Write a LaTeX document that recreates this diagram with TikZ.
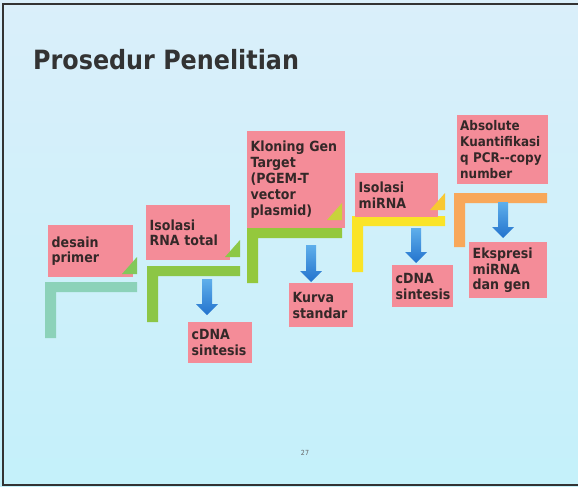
\documentclass[tikz,border=0pt]{standalone}
\usepackage{fontspec}
\setmainfont{DejaVu Sans Condensed}
\usetikzlibrary{calc}

\definecolor{bgblue}{RGB}{218,239,250}
\definecolor{boxpink}{RGB}{244,140,152}
\definecolor{ink}{RGB}{52,40,40}
\definecolor{stepteal}{RGB}{140,210,185}
\definecolor{stepgreen}{RGB}{140,198,70}
\definecolor{steplime}{RGB}{148,200,60}
\definecolor{stepyellow}{RGB}{250,228,40}
\definecolor{steporange}{RGB}{248,168,90}
\definecolor{triA}{RGB}{130,200,90}
\definecolor{triB}{RGB}{140,200,70}
\definecolor{triC}{RGB}{200,210,60}
\definecolor{triD}{RGB}{248,200,50}
\definecolor{arrowtop}{RGB}{95,175,235}
\definecolor{arrowbot}{RGB}{35,115,205}

\tikzset{
  stepbox/.style={anchor=north west, fill=boxpink, inner xsep=3.5pt, inner ysep=3pt,
    align=left, text=ink, font=\bfseries\fontsize{14}{15.8}\selectfont},
}

% L-shaped stair step: colour, left x, top y, right x, bottom y
\newcommand\stairstep[5]{%
  \fill[#1] (#2,#3) -- (#4,#3) -- (#4,#3+10) -- (#2+11,#3+10) -- (#2+11,#5) -- (#2,#5) -- cycle;}
% small corner triangle: colour, right x, bottom y
\newcommand\stairtri[3]{%
  \fill[#1] (#2,#3-17) -- (#2,#3) -- (#2-15,#3) -- cycle;}
% shaded downward block arrow between two named coordinates
\newcommand\bluedrop[2]{%
  \shade[top color=arrowtop, bottom color=arrowbot]
    ($(#1)+(-5,0)$) -- ($(#1)+(5,0)$) -- ($(#2)+(5,-11)$) -- ($(#2)+(11,-11)$)
    -- (#2) -- ($(#2)+(-11,-11)$) -- ($(#2)+(-5,-11)$) -- cycle;}

\begin{document}
\begin{tikzpicture}[x=1pt,y=-1pt]
\useasboundingbox (0,0) rectangle (578,487);

% slide background and frame
\shade[top color=bgblue, middle color=white, bottom color=bgblue!90!cyan] (0,0) rectangle (578,487);
\draw[line width=1.5pt, black!80] (578,4) -- (3,4) -- (3,485) -- (578,485);

\node[anchor=base west, inner sep=0pt, text=black!80, font=\bfseries\fontsize{26.5}{30}\selectfont] (title) at (33,70) {Prosedur Penelitian};

% stair steps
\stairstep{stepteal}{45}{282}{137}{338}
\stairstep{stepgreen}{147}{266}{240}{322}
\stairstep{steplime}{247}{228}{342}{283}
\stairstep{stepyellow}{352}{216}{445}{272}
\stairstep{steporange}{454}{193}{547}{247}

% main steps
\node[stepbox, minimum width=85pt, minimum height=52pt, text width=78pt] (b1) at (48,225) {desain\\primer};
\node[stepbox, minimum width=84pt, minimum height=55pt, text width=77pt] (b2) at (146,205) {Isolasi\\RNA total};
\node[stepbox, minimum width=98pt, minimum height=97pt, text width=91pt] (b3) at (247,131) {Kloning Gen\\Target\\(PGEM-T\\vector\\plasmid)};
\node[stepbox, minimum width=83pt, minimum height=44pt, text width=76pt] (b4) at (355,173) {Isolasi\\miRNA};
\node[stepbox, minimum width=91pt, minimum height=69pt, text width=85pt, inner xsep=3pt,
      font=\bfseries\fontsize{13.3}{15.8}\selectfont] (b5) at (457,115)
      {Absolute\\Kuantifikasi\\\mbox{q PCR-{}-copy}\\number};

% corner triangles
\stairtri{triA}{137}{274}
\stairtri{triB}{240}{257}
\stairtri{triC}{342}{220}
\stairtri{triD}{445}{210}

% results
\node[stepbox, minimum width=64pt, minimum height=41pt, text width=57pt] (c1) at (188,322) {cDNA\\sintesis};
\node[stepbox, minimum width=64pt, minimum height=44pt, text width=57pt] (c2) at (289,283) {Kurva\\standar};
\node[stepbox, minimum width=61pt, minimum height=42pt, text width=54pt] (c3) at (392,265) {cDNA\\sintesis};
\node[stepbox, minimum width=78pt, minimum height=56pt, text width=71pt] (c4) at (469,242) {Ekspresi\\miRNA\\dan gen};

% arrows from steps to results
\coordinate (a1s) at (207,279); \coordinate (a1e) at (207,315);
\coordinate (a2s) at (311,245); \coordinate (a2e) at (311,282);
\coordinate (a3s) at (416,228); \coordinate (a3e) at (416,263);
\coordinate (a4s) at (503,202); \coordinate (a4e) at (503,238);
\bluedrop{a1s}{a1e}
\bluedrop{a2s}{a2e}
\bluedrop{a3s}{a3e}
\bluedrop{a4s}{a4e}

\node[text=black!60, font=\fontsize{7}{8}\selectfont] (pagenum) at (305,453) {27};
\end{tikzpicture}
\end{document}
